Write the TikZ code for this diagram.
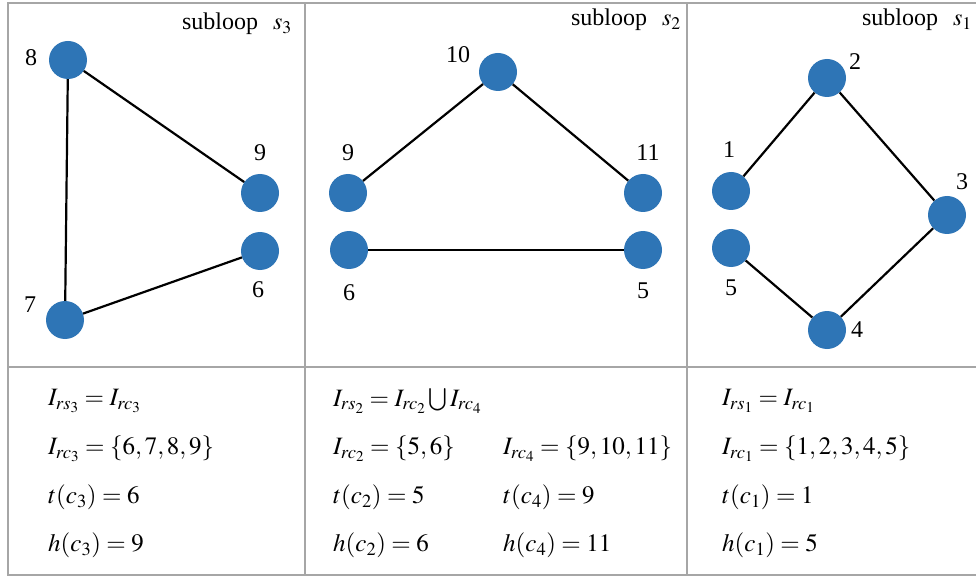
\documentclass[tikz,border=0pt]{standalone}
\usepackage{mathptmx}
\usepackage{fontspec}
\setmainfont{Liberation Serif}
\definecolor{nodeblue}{HTML}{2E75B6}
\definecolor{framegray}{HTML}{A6A6A6}
\tikzset{
  vtx/.style={circle,fill=nodeblue,minimum size=38pt,inner sep=0pt},
  lbl/.style={font=\fontsize{24}{28}\selectfont,inner sep=0pt},
  eq/.style={font=\fontsize{25}{28}\selectfont,inner sep=0pt,anchor=west},
  title/.style={font=\fontsize{24}{28}\selectfont,inner sep=0pt,anchor=east},
  edge/.style={line width=2.2pt,black},
  frame/.style={line width=2pt,framegray}
}
\begin{document}
\begin{tikzpicture}[x=1pt,y=-1pt]
\useasboundingbox (0,0) rectangle (976,577);
\fill[white] (0,0) rectangle (976,577);
% frame
\draw[frame] (977,3) -- (8,3) -- (8,575) -- (977,575);
\draw[frame] (8,367) -- (977,367);
\draw[frame] (305,3) -- (305,575);
\draw[frame] (687,3) -- (687,575);
% titles
\node[title] (t3) at (292,24) {subloop\hspace{15pt}$s_3$};
\node[title] (t2) at (681,20) {subloop\hspace{15pt}$s_2$};
\node[title] (t1) at (972,20) {subloop\hspace{15pt}$s_1$};
% panel s3
\node[vtx] (a8) at (68,60) {};
\node[vtx] (a9) at (260,193) {};
\node[vtx] (a6) at (260,251) {};
\node[vtx] (a7) at (65,320) {};
\draw[edge] (a8) -- (a9);
\draw[edge] (a8) -- (a7);
\draw[edge] (a7) -- (a6);
\node[lbl] (la8) at (31,58) {8};
\node[lbl] (la9) at (260,153) {9};
\node[lbl] (la6) at (258,290) {6};
\node[lbl] (la7) at (30,305) {7};
% panel s2
\node[vtx] (b10) at (498,72) {};
\node[vtx] (b9) at (348,193) {};
\node[vtx] (b11) at (643,193) {};
\node[vtx] (b6) at (349,250) {};
\node[vtx] (b5) at (643,250) {};
\draw[edge] (b9) -- (b10);
\draw[edge] (b10) -- (b11);
\draw[edge] (b6) -- (b5);
\node[lbl] (lb10) at (458,55) {10};
\node[lbl] (lb9) at (348,153) {9};
\node[lbl] (lb11) at (648,153) {11};
\node[lbl] (lb6) at (349,293) {6};
\node[lbl] (lb5) at (643,291) {5};
% panel s1
\node[vtx] (c2) at (827,78) {};
\node[vtx] (c1) at (731,191) {};
\node[vtx] (c3) at (947,215) {};
\node[vtx] (c5) at (731,248) {};
\node[vtx] (c4) at (827,330) {};
\draw[edge] (c1) -- (c2);
\draw[edge] (c2) -- (c3);
\draw[edge] (c3) -- (c4);
\draw[edge] (c4) -- (c5);
\node[lbl] (lc2) at (855,62) {2};
\node[lbl] (lc1) at (729,150) {1};
\node[lbl] (lc3) at (962,182) {3};
\node[lbl] (lc5) at (731,288) {5};
\node[lbl] (lc4) at (857,330) {4};
% formulas s3
\node[eq] (e31) at (48,401) {$I_{rs_3} = I_{rc_3}$};
\node[eq] (e32) at (48,449) {$I_{rc_3} = \{6,7,8,9\}$};
\node[eq] (e33) at (48,497) {$t(c_3) = 6$};
\node[eq] (e34) at (48,545) {$h(c_3) = 9$};
% formulas s2
\node[eq] (e21) at (333,401) {$I_{rs_2} = I_{rc_2} \bigcup I_{rc_4}$};
\node[eq] (e22) at (333,449) {$I_{rc_2} = \{5,6\}$};
\node[eq] (e23) at (333,497) {$t(c_2) = 5$};
\node[eq] (e24) at (333,545) {$h(c_2) = 6$};
\node[eq] (e25) at (503,449) {$I_{rc_4} = \{9,10,11\}$};
\node[eq] (e26) at (503,497) {$t(c_4) = 9$};
\node[eq] (e27) at (503,545) {$h(c_4) = 11$};
% formulas s1
\node[eq] (e11) at (722,401) {$I_{rs_1} = I_{rc_1}$};
\node[eq] (e12) at (722,449) {$I_{rc_1} = \{1,2,3,4,5\}$};
\node[eq] (e13) at (722,497) {$t(c_1) = 1$};
\node[eq] (e14) at (722,545) {$h(c_1) = 5$};
\end{tikzpicture}
\end{document}
